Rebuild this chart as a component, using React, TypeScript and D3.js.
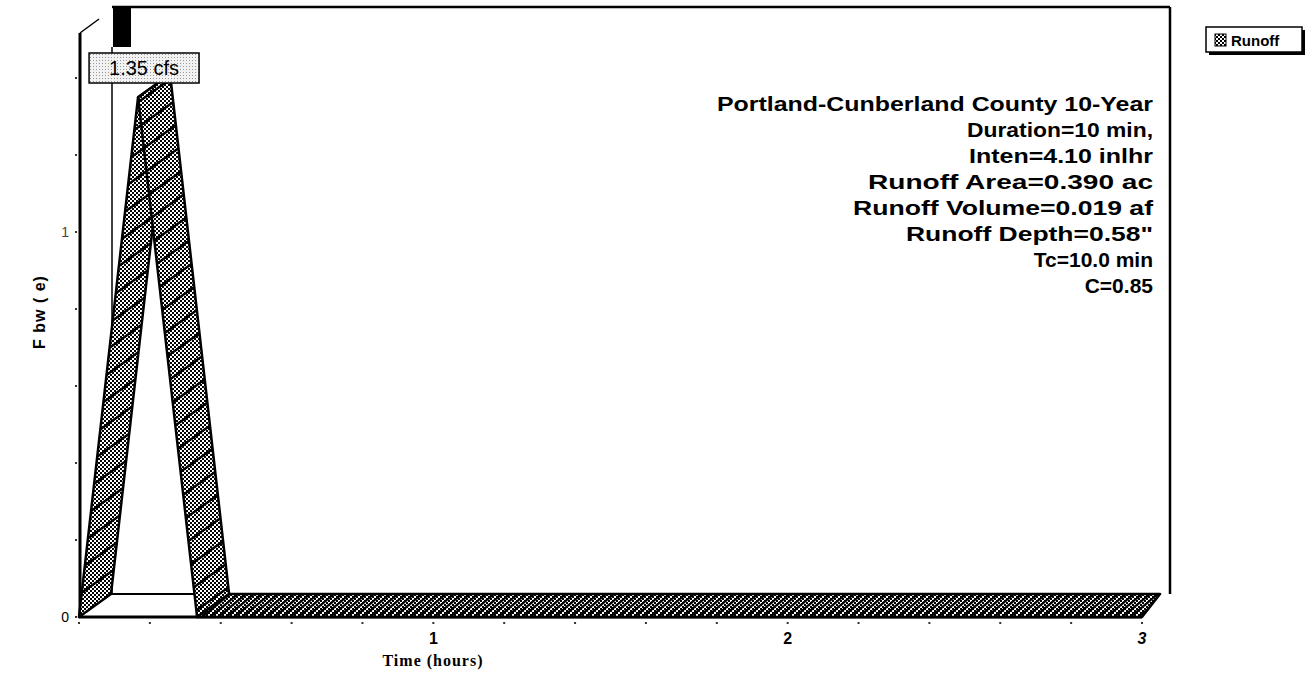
import React from "react";
import * as d3 from "d3";

const timeHours = [0, 0.1667, 0.3333, 3];
const flowCfs = [0, 1.35, 0, 0];
const xTickMajor = [1, 2, 3];
const yTickLabels = [0, 1];
const infoLines = [
  "Portland-Cunberland County 10-Year",
  "Duration=10 min,",
  "Inten=4.10 inlhr",
  "Runoff Area=0.390 ac",
  "Runoff Volume=0.019 af",
  'Runoff Depth=0.58"',
  "Tc=10.0 min",
  "C=0.85",
];
const infoStartX: (number | null)[] = [717, 967, 969, 868, 853, 906, null, null];
const peakLabel = "1.35 cfs";
const seriesName = "Runoff";

const W = 1311;
const H = 676;
const DX = 32;
const DY = -23;
const END_DX = 18;
const INFO_RIGHT = 1153;

export default function App() {
  const x = d3.scaleLinear().domain([0, 3]).range([79, 1142]);
  const y = d3.scaleLinear().domain([0, 1]).range([617, 232]);
  const pts = timeHours.map((t, i) => [x(t), y(flowCfs[i])] as [number, number]);

  const bands = pts.slice(0, -1).map((p, i) => {
    const q = pts[i + 1];
    const last = i === pts.length - 2;
    const ex = last ? END_DX : DX;
    const poly: [number, number][] = [
      p,
      q,
      [q[0] + ex, q[1] + DY],
      [p[0] + DX, p[1] + DY],
    ];
    return { poly, flat: flowCfs[i] === 0 && flowCfs[i + 1] === 0 };
  });
  const line = d3.line();

  const yMinor = d3.range(0, 1.41, 0.2);
  const xMinor = d3.range(0, 3.01, 0.2);
  const yBase = y(0);
  const peakX = x(timeHours[1]);

  return (
    <svg width={W} height={H} style={{ position: "absolute", left: 0, top: 0, background: "#fff" }}>
      <defs>
        <pattern id="checker" width="4" height="4" patternUnits="userSpaceOnUse">
          <rect width="4" height="4" fill="#fff" />
          <rect x="0" y="0" width="2" height="2" fill="#000" />
          <rect x="2" y="2" width="2" height="2" fill="#000" />
        </pattern>
        <pattern id="stripeWide" width="3000" height="25" patternUnits="userSpaceOnUse" patternTransform="skewY(-35.7)">
          <rect x="0" y="0" width="3000" height="3" fill="#000" />
        </pattern>
        <pattern id="stripeDense" width="8" height="8" patternUnits="userSpaceOnUse" patternTransform="skewX(-50)">
          <rect x="0" y="0" width="3.5" height="8" fill="#000" />
        </pattern>
        <pattern id="dots" width="3" height="3" patternUnits="userSpaceOnUse">
          <rect width="3" height="3" fill="#f2f2f2" />
          <rect x="0" y="0" width="1" height="1" fill="#999" />
        </pattern>
      </defs>

      {/* back wall */}
      <line x1={x(0) + DX + 1} y1={7} x2={1170} y2={7} stroke="#000" strokeWidth={2.5} />
      <line x1={1170} y1={7} x2={1170} y2={594} stroke="#000" strokeWidth={2.5} />
      <rect x={113} y={7} width={18} height={40} fill="#000" />
      <line x1={x(0) + DX + 1} y1={47} x2={x(0) + DX + 1} y2={yBase + DY} stroke="#000" strokeWidth={1.5} />
      <line x1={x(0) + DX} y1={yBase + DY} x2={x(timeHours[2]) + DX} y2={yBase + DY} stroke="#000" strokeWidth={2} />

      {/* left wall */}
      <line x1={80} y1={33} x2={80} y2={yBase + 1} stroke="#000" strokeWidth={3} />
      <line x1={80} y1={33} x2={99} y2={19} stroke="#000" strokeWidth={1.5} />

      {/* y minor ticks */}
      {yMinor.map((v) => (
        <rect key={"ym" + v} x={75} y={y(v) - 1} width={2} height={2} fill="#333" />
      ))}
      {yTickLabels.map((v) => (
        <text key={"yl" + v} x={69} y={y(v) + 5} textAnchor="end" fontFamily="Arial, Liberation Sans, sans-serif" fontSize={14} fontWeight="normal" fill={v === 0 ? "#000" : "#444"}>
          {v}
        </text>
      ))}

      {/* front baseline */}
      <line x1={x(0)} y1={yBase} x2={x(3)} y2={yBase} stroke="#000" strokeWidth={3} />

      {/* x minor ticks */}
      {xMinor.map((v) => (
        <rect key={"xm" + v} x={x(v) - 1} y={622} width={2} height={2} fill="#333" />
      ))}
      {xTickMajor.map((v) => (
        <text key={"xl" + v} x={x(v)} y={644} textAnchor="middle" fontFamily="Arial, Liberation Sans, sans-serif" fontSize={16} fontWeight="bold" fontStyle={v === 3 ? "italic" : "normal"} fill="#000">
          {v}
        </text>
      ))}

      {/* bands */}
      {bands.map((b, i) => (
        <g key={"b" + i}>
          <path d={line(b.poly)! + "Z"} fill="url(#checker)" />
          <path d={line(b.poly)! + "Z"} fill={b.flat ? "url(#stripeDense)" : "url(#stripeWide)"} />
          <path d={line(b.poly)! + "Z"} fill="none" stroke="#000" strokeWidth={2.5} strokeLinejoin="round" />
        </g>
      ))}

      {/* peak label */}
      <rect x={peakX - 49} y={53} width={110} height={30} fill="url(#dots)" stroke="#000" strokeWidth={1.5} />
      <text x={peakX + 6} y={75} textAnchor="middle" fontFamily="Arial, Liberation Sans, sans-serif" fontSize={20} fill="#000">
        {peakLabel}
      </text>

      {/* info text */}
      {infoLines.map((s, i) => {
        const sx = infoStartX[i];
        return sx !== null ? (
          <text
            key={"info" + i}
            x={sx}
            y={111 + i * 26}
            textLength={INFO_RIGHT - sx}
            lengthAdjust="spacingAndGlyphs"
            fontFamily="Arial, Liberation Sans, sans-serif"
            fontSize={21}
            fontWeight="bold"
            fill="#000"
          >
            {s}
          </text>
        ) : (
          <text
            key={"info" + i}
            x={INFO_RIGHT}
            y={111 + i * 26}
            textAnchor="end"
            fontFamily="Arial, Liberation Sans, sans-serif"
            fontSize={21}
            fontWeight="bold"
            fill="#000"
          >
            {s}
          </text>
        );
      })}

      {/* legend */}
      <rect x={1209} y={30} width={96} height={25} fill="#000" />
      <rect x={1206} y={27} width={96} height={25} fill="#fff" stroke="#000" strokeWidth={1.5} />
      <rect x={1215} y={34} width={11} height={12} fill="url(#checker)" stroke="#000" strokeWidth={1} />
      <text x={1231} y={46} fontFamily="Arial, Liberation Sans, sans-serif" fontSize={15} fontWeight="bold" fill="#000">
        {seriesName}
      </text>

      {/* axis titles */}
      <text x={433} y={666} textAnchor="middle" fontFamily="Times New Roman, Liberation Serif, serif" fontSize={16} fontWeight="bold" letterSpacing={1} fill="#000">
        Time (hours)
      </text>
      <text transform="translate(45,312) rotate(-90)" textAnchor="middle" fontFamily="Arial, Liberation Sans, sans-serif" fontSize={16} fontWeight="bold" letterSpacing={1} fill="#000">
        F bw ( e)
      </text>
    </svg>
  );
}
